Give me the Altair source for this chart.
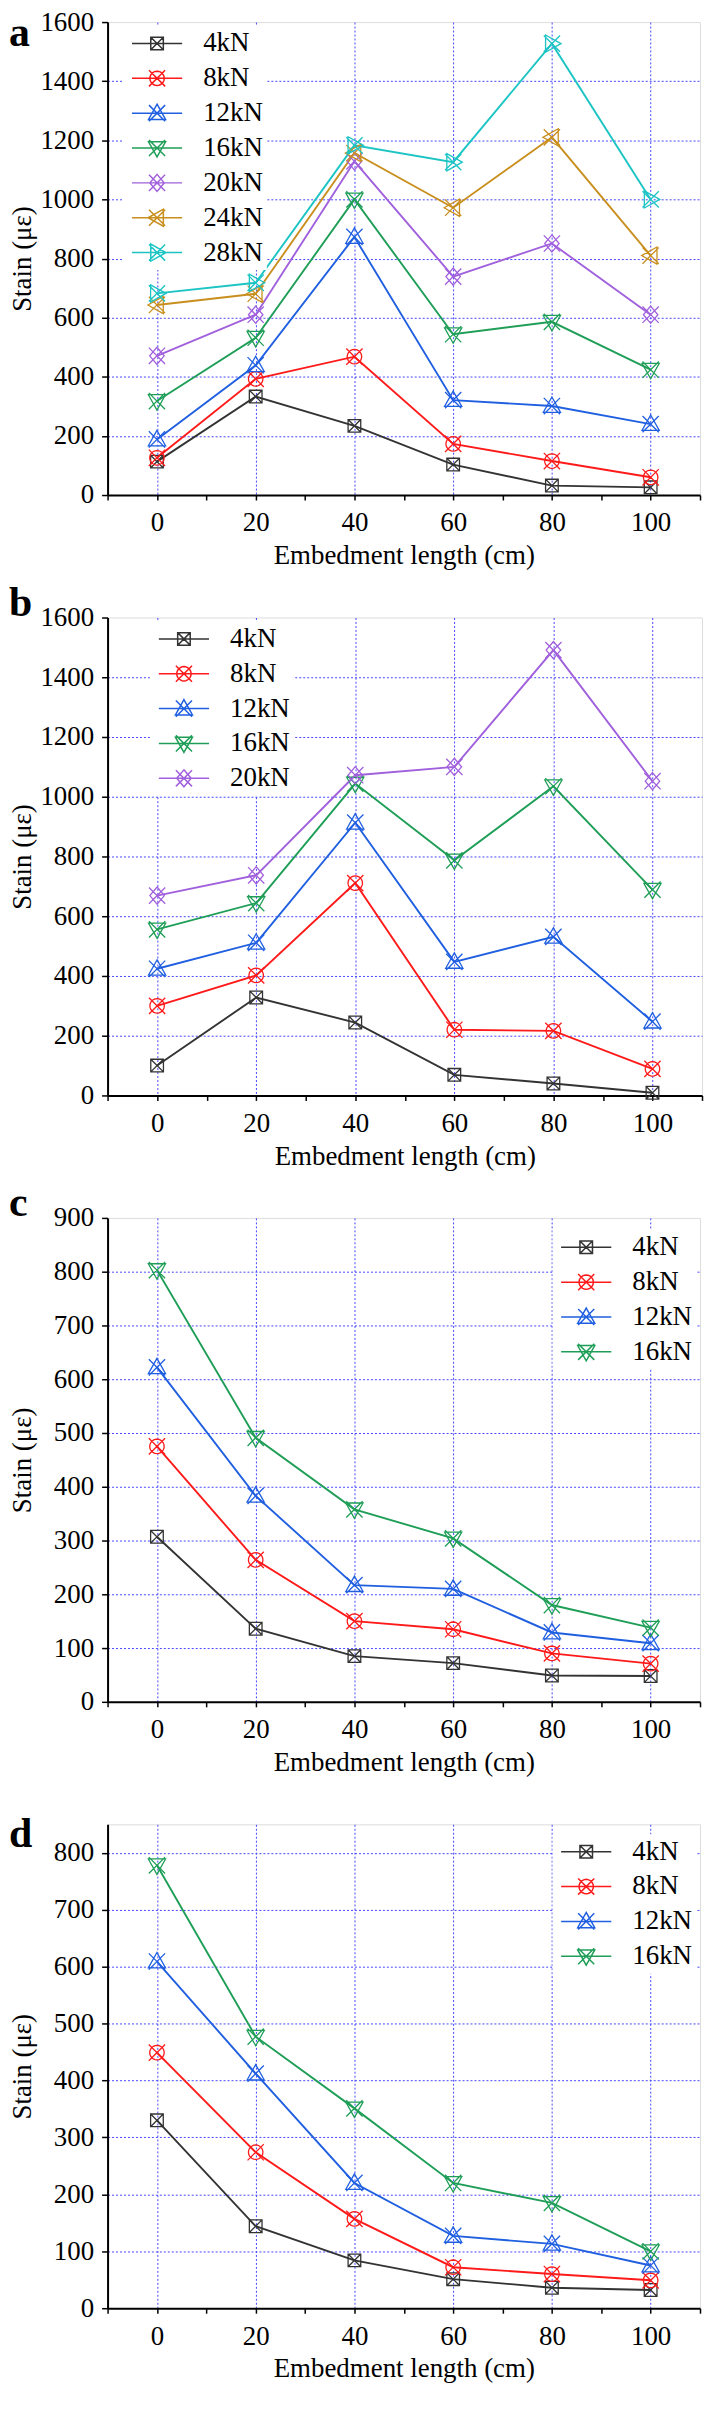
import math
import altair as alt
import pandas as pd

# ---------------- data ----------------
x_cm = [0, 20, 40, 60, 80, 100]

loads_a = ["4kN", "8kN", "12kN", "16kN", "20kN", "24kN", "28kN"]
loads_b = ["4kN", "8kN", "12kN", "16kN", "20kN"]
loads_cd = ["4kN", "8kN", "12kN", "16kN"]

a_4kN = [113, 333, 234, 103, 32, 26]
a_8kN = [126, 393, 468, 173, 115, 60]
a_12kN = [188, 439, 873, 321, 301, 240]
a_16kN = [318, 532, 1000, 544, 586, 424]
a_20kN = [471, 610, 1129, 739, 851, 610]
a_24kN = [643, 681, 1157, 972, 1210, 810]
a_28kN = [682, 718, 1183, 1126, 1527, 1000]

b_4kN = [100, 328, 244, 69, 40, 9]
b_8kN = [300, 402, 711, 220, 216, 89]
b_12kN = [424, 511, 913, 447, 531, 247]
b_16kN = [556, 644, 1044, 787, 1035, 689]
b_20kN = [669, 737, 1072, 1100, 1491, 1052]

c_4kN = [307, 136, 85, 72, 49, 48]
c_8kN = [475, 264, 150, 135, 90, 71]
c_12kN = [622, 383, 217, 210, 129, 109]
c_16kN = [803, 491, 358, 304, 180, 138]

d_4kN = [330, 144, 84, 51, 36, 32]
d_8kN = [449, 274, 157, 72, 60, 49]
d_12kN = [609, 412, 220, 127, 113, 75]
d_16kN = [778, 477, 351, 220, 185, 100]

x_title = "Embedment length (cm)"
y_title = "Stain (με)"

# ---------------- styles ----------------
FONT = "Liberation Serif"
FS = 27
GRID = "#4646ff"
COLORS = {"4kN": "#333333", "8kN": "#ff1a1a", "12kN": "#1f5fe0", "16kN": "#1e9e57",
          "20kN": "#a160dc", "24kN": "#c98f1e", "28kN": "#1cc4c4"}

XL = [([(-0.9, -0.9), (0.9, 0.9)], False), ([(0.9, -0.9), (-0.9, 0.9)], False)]
CIRCLE = [(0.8 * math.cos(2 * math.pi * k / 24), 0.8 * math.sin(2 * math.pi * k / 24)) for k in range(24)]
MARKER_PARTS = {
    "4kN": [([(-0.7, -0.7), (0.7, -0.7), (0.7, 0.7), (-0.7, 0.7)], True),
            ([(-0.7, -0.7), (0.7, 0.7)], False), ([(0.7, -0.7), (-0.7, 0.7)], False)],
    "8kN": [(CIRCLE, True)] + XL,
    "12kN": [([(0, -1), (0.95, 0.7), (-0.95, 0.7)], True)] + XL,
    "16kN": [([(0, 1), (0.95, -0.7), (-0.95, -0.7)], True)] + XL,
    "20kN": [([(0, -0.95), (0.8, 0), (0, 0.95), (-0.8, 0)], True)] + XL,
    "24kN": [([(-1, 0), (0.7, -0.95), (0.7, 0.95)], True)] + XL,
    "28kN": [([(1, 0), (-0.7, -0.95), (-0.7, 0.95)], True)] + XL,
}


def poly(pts, closed, dx):
    s = "M" + " L".join(f"{px + dx:.3f},{py:.3f}" for px, py in pts)
    return s + ("Z" if closed else "")


def marker_path(name, dx=0.0):
    return " ".join(poly(p, c, dx) for p, c in MARKER_PARTS[name])


def legend_path(name):
    return "M-1,0L4.6,0 " + marker_path(name, 1.8)


def frame(loads, series):
    rows = []
    for name, vals in zip(loads, series):
        for xv, yv in zip(x_cm, vals):
            rows.append({"x": xv, "v": yv, "s": name})
    return pd.DataFrame(rows)


def x_axis():
    return alt.Axis(
        values=list(range(-10, 111, 10)), format="d",
        labelExpr="datum.value % 20 === 0 && datum.value >= 0 && datum.value <= 100 ? datum.label : ''",
        grid=True, gridColor=GRID, gridDash=[2, 2], gridWidth=1,
        gridOpacity={"condition": {"test": "datum.value % 20 === 0 && datum.value >= 0 && datum.value <= 100",
                                   "value": 1}, "value": 0},
        tickSize=5, tickWidth=1.5, tickColor="black", domainColor="black", domainWidth=2,
        labelFont=FONT, labelFontSize=FS, labelColor="black", labelPadding=10,
        labelOverlap=False, labelFlush=False,
        titleFont=FONT, titleFontSize=FS, titleFontWeight="normal", titleColor="black", titlePadding=7)


def y_axis(ymax, h):
    return alt.Axis(
        values=list(range(0, ymax + 1, 50)), format="d",
        labelExpr="datum.value % 100 === 0 ? datum.label : ''",
        grid=True, gridColor=GRID, gridDash=[2, 2], gridWidth=1,
        gridOpacity={"condition": {"test": f"datum.value % 100 === 0 && datum.value > 0 && datum.value < {ymax}",
                                   "value": 1}, "value": 0},
        tickSize=6, tickWidth=1.5, tickColor="black", domainColor="black", domainWidth=2,
        labelFont=FONT, labelFontSize=FS, labelColor="black", labelPadding=8,
        labelOverlap=False, labelFlush=False,
        titleFont=FONT, titleFontSize=FS, titleFontWeight="normal", titleColor="black",
        titleX=-77, titleY=h / 2, titleAngle=270, titleBaseline="alphabetic", titleAlign="center")


def panel(df, loads, letter, ymax, w, h, lx, ly, letter_y):
    colors = [COLORS[s] for s in loads]
    xenc = alt.X("x:Q", scale=alt.Scale(domain=[-10, 110], nice=False, zero=False),
                 axis=x_axis(), title=x_title)
    yenc = alt.Y("v:Q", scale=alt.Scale(domain=[0, ymax], nice=False), axis=y_axis(ymax, h), title=y_title)
    legend = alt.Legend(title=None, orient="none", legendX=lx, legendY=ly, direction="vertical",
                        fillColor="white", padding=4, labelFont=FONT, labelFontSize=FS, labelColor="black",
                        labelOffset=49, labelLimit=300, symbolSize=324, symbolStrokeWidth=1.5,
                        symbolOpacity=1, rowPadding=7)
    base = alt.Chart(df)
    layers = []
    for i, name in enumerate(loads):
        sub = base.transform_filter(alt.datum.s == name)
        if i == 0:
            enc = dict(x=xenc, y=yenc)
        else:
            enc = dict(x="x:Q", y="v:Q")
        layers.append(sub.mark_line(strokeWidth=1.9, color=COLORS[name]).encode(**enc))
    for name in loads:
        layers.append(
            base.transform_filter(alt.datum.s == name).mark_point(
                shape=marker_path(name), filled=False, size=330, strokeWidth=1.3, color=COLORS[name], opacity=1
            ).encode(x="x:Q", y="v:Q"))
    layers.append(base.mark_point(filled=False, opacity=0, size=1).encode(
        x="x:Q", y="v:Q",
        shape=alt.Shape("s:N", scale=alt.Scale(domain=loads, range=[legend_path(s) for s in loads]),
                        legend=legend),
        color=alt.Color("s:N", scale=alt.Scale(domain=loads, range=colors), legend=legend)))
    layers.append(alt.Chart(pd.DataFrame({"t": [letter]})).mark_text(
        font=FONT, fontSize=42, fontWeight="bold", align="left", baseline="alphabetic", color="black"
    ).encode(x=alt.value(-99), y=alt.value(letter_y), text="t:N"))
    return alt.layer(*layers).properties(width=w, height=h)


df_a = frame(loads_a, [a_4kN, a_8kN, a_12kN, a_16kN, a_20kN, a_24kN, a_28kN])
df_b = frame(loads_b, [b_4kN, b_8kN, b_12kN, b_16kN, b_20kN])
df_c = frame(loads_cd, [c_4kN, c_8kN, c_12kN, c_16kN])
df_d = frame(loads_cd, [d_4kN, d_8kN, d_12kN, d_16kN])

pa = panel(df_a, loads_a, "a", 1600, 595, 475, 16, 4, 24)
pb = panel(df_b, loads_b, "b", 1600, 597, 480, 43, 4, -2)
pc = panel(df_c, loads_cd, "c", 900, 595, 486, 447, 12, -2)
pd_ = panel(df_d, loads_cd, "d", 850, 595, 486, 447, 10, 23)

chart = alt.vconcat(pa, pb, pc, pd_, spacing=123, bounds="flush").resolve_scale(
    color="independent", shape="independent"
).properties(
    padding={"top": -6, "left": 0, "right": 0, "bottom": 0}
).configure_view(stroke="black", strokeWidth=2).configure(background="white", font=FONT)

chart.save("out.html", embed_options={"renderer": "svg", "actions": False})
